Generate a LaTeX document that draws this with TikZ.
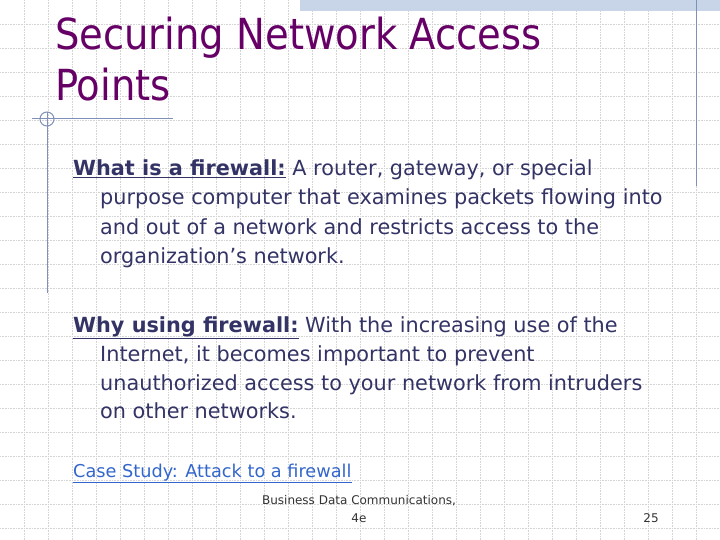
\documentclass[tikz,border=0pt]{standalone}
\usepackage{fontspec}
\setmainfont{DejaVu Sans}
\newfontfamily\titlefont{DejaVu Sans Condensed}
\usetikzlibrary{positioning}
\definecolor{titlecol}{HTML}{660066}
\definecolor{bodycol}{HTML}{333366}
\definecolor{linkcol}{HTML}{3366CC}
\definecolor{rulecol}{HTML}{8090B8}
\definecolor{gridcol}{HTML}{D4D4D4}
\definecolor{bandcol}{HTML}{C8D4E8}
\tikzset{
  body/.style={anchor=base west, inner sep=0pt, text=bodycol, font=\fontsize{20.8}{24}\selectfont},
  ttl/.style={anchor=base west, inner sep=0pt, text=titlecol, font=\titlefont\fontsize{42.8}{48}\selectfont},
  foot/.style={anchor=base, inner sep=0pt, text=black!80, font=\fontsize{12}{14}\selectfont},
  deco/.style={rulecol, line width=1pt}
}
\begin{document}
\begin{tikzpicture}[x=1pt,y=-1pt]
\useasboundingbox (0,0) rectangle (720,540);
\fill[white] (0,0) rectangle (720,540);
% background grid
\foreach \i in {1,...,29}
  \draw[gridcol, densely dotted, line width=0.6pt] (\i*24,0) -- (\i*24,540);
\foreach \j in {1,...,22}
  \draw[gridcol, densely dotted, line width=0.6pt] (0,\j*24) -- (720,\j*24);
\fill[bandcol] (300,0) rectangle (720,11);
% title rules
\draw[deco] (32,119) -- (173,119);
\draw[deco] (47,112) -- (47,293);
\draw[deco] (47,119) circle[radius=7];
\draw[deco] (696,0) -- (696,186);

\node[ttl] (t1) at (55,50) {Securing Network Access};
\node[ttl] (t2) at (55,101) {Points};

\node[body] (a1) at (73,176) {\textbf{\underline{What is a firewall:}} A router, gateway, or special};
\node[body] (a2) at (100,205) {purpose computer that examines packets flowing into};
\node[body] (a3) at (100,234) {and out of a network and restricts access to the};
\node[body] (a4) at (100,263) {organization’s network.};

\node[body] (b1) at (73,332) {\textbf{\underline{Why using firewall:}} With the increasing use of the};
\node[body] (b2) at (100,361) {Internet, it becomes important to prevent};
\node[body] (b3) at (100,390) {unauthorized access to your network from intruders};
\node[body] (b4) at (100,418) {on other networks.};

\node[body, text=linkcol, font=\fontsize{17.7}{22}\selectfont] (cs) at (73,477) {\underline{Case Study: Attack to a firewall}};

\node[foot] (f1) at (359,504) {Business Data Communications,};
\node[foot] (f2) at (359,522) {4e};
\node[foot] (pg) at (651,522) {25};
\end{tikzpicture}
\end{document}
